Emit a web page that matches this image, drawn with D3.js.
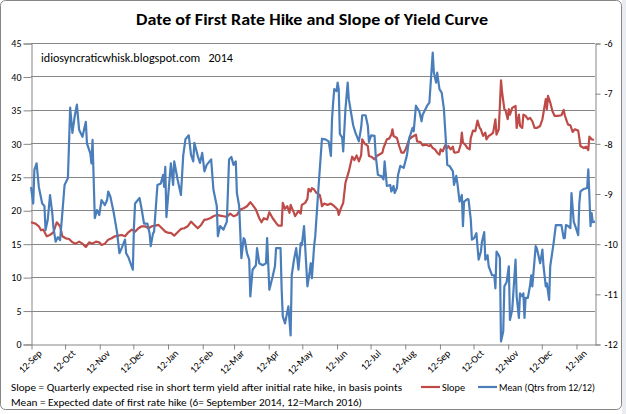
<!DOCTYPE html>
<html>
<head>
<meta charset="utf-8">
<script src="https://cdn.jsdelivr.net/npm/d3@7"></script>
<style>
  body { margin: 0; background: #fff; }
  svg { display: block; }
  text { font-family: Carlito, "Liberation Sans", Arial, sans-serif; fill: #000; }
</style>
</head>
<body>
<div id="chart"></div>
<script>
// first observation date, the series are [day offset, value]
const startDate = new Date(2012, 8, 12);
const lastDay = 504;

const monthTicks = d3.range(0, 17); // 12th of each month from Sep 2012

const leftTicks = [0, 5, 10, 15, 20, 25, 30, 35, 40, 45];
const rightTicks = [-12, -11, -10, -9, -8, -7, -6];

// Slope (basis points), left axis
const slopeSeries = [
  [0,18.2],[4,18],[7,17.6],[9,17],[11,17.1],[14,16.1],[17,16.3],[20,16.7],[23,18.2],[26,17.6],
  [28,16.1],[31,15.8],[34,15.7],[37,15.2],[40,15],[43,15.3],[46,15],[49,14.5],[52,15.2],[55,15],
  [58,15.3],[61,15.2],[63,14.8],[66,15],[69,15.6],[72,15.8],[75,16.1],[78,16.2],[81,16.3],[84,16.1],
  [87,16.7],[90,17.1],[93,16.8],[96,17.3],[99,17.6],[102,17.6],[105,17.3],[108,17.6],[111,17.7],[114,17.8],
  [117,17.3],[120,16.8],[123,16.6],[125,16.6],[128,16.2],[131,16.7],[134,17.2],[137,17.3],[140,17.6],[143,18.3],
  [146,17.8],[149,17.3],[152,17.8],[155,18.6],[157,18.6],[160,18.8],[163,19.1],[166,19.3],[169,19.2],[172,19.1],
  [175,19],[178,19.5],[181,19.1],[184,19.3],[187,20.1],[190,20.3],[193,20.6],[196,21.2],[198,20.8],[201,20.1],
  [204,18.8],[206,18.2],[208,18.8],[211,18.6],[213,19.7],[216,18.8],[219,18.1],[221,17.7],[224,17.7],[225,21.1],
  [227,20.2],[229,20.6],[231,19.6],[232,20.8],[235,19.6],[236,19.1],[239,19.9],[241,19.5],[242,20.8],[245,21.1],
  [247,21.7],[248,23.2],[250,22.8],[251,23.3],[253,23.1],[255,22.6],[258,22.3],[259,21.6],[260,20.6],[262,21],
  [265,20.8],[268,21],[271,20.6],[274,20.1],[275,19.3],[277,20.3],[279,21.1],[281,24.1],[284,25.8],[287,28],
  [289,27.5],[291,28.2],[293,27.3],[295,28.2],[296,30.6],[298,30],[301,29.6],[302,28.1],[304,28],[307,27.6],
  [309,28.1],[311,28.3],[314,28.6],[315,29.3],[318,30.6],[320,30.7],[322,31.3],[323,32.1],[324,31.1],[327,30.8],
  [329,29.6],[331,28.6],[333,28.6],[335,29.2],[338,30.6],[340,30.9],[342,31.1],[344,31.3],[345,30.3],[348,30.2],
  [350,29.7],[353,29.8],[356,29.6],[357,29.8],[359,29.3],[361,29.1],[363,28.6],[365,28.3],[366,29.1],[368,28.8],
  [370,29.7],[372,29.3],[373,29.6],[375,29.1],[377,29.5],[378,28.7],[379,28.6],[382,28.7],[384,29.8],[385,31.6],
  [386,30.1],[388,29.8],[390,29.3],[392,29.1],[393,30.8],[395,31.9],[397,31.8],[399,33.4],[401,32.3],[402,32.1],
  [404,31.1],[406,31.6],[407,30.6],[409,31.1],[411,31.3],[413,31.6],[415,33.6],[416,31.3],[418,32.1],[419,35.6],
  [420,39.4],[421,37.6],[423,35.1],[424,35],[426,33.6],[427,35.1],[428,34.3],[430,35.3],[433,35.6],[434,32.3],
  [436,34.3],[437,32.6],[439,32.3],[440,34.3],[442,34.1],[444,33.6],[446,33.8],[448,33.3],[450,32.3],[452,32.3],
  [455,32.6],[457,33.6],[459,35.6],[460,36.6],[461,35.1],[462,37.1],[464,36.1],[466,34.8],[468,34.1],[471,34.1],
  [474,34.2],[476,35],[477,34.2],[479,33.2],[480,32.8],[482,32.7],[484,31.7],[486,32.1],[489,31.9],[491,29.6],
  [494,29.3],[496,29.5],[498,29],[499,31],[501,30.6],[503,30.5]
];

// Mean (quarters from 12/12, plotted negative), right axis
const meanSeries = [
  [0,-8.87],[2,-9.20],[3,-8.53],[5,-8.40],[7,-8.87],[10,-9.20],[12,-9.25],[13,-9.73],[15,-9.52],[17,-9.03],
  [19,-9.39],[20,-9.67],[22,-9.96],[24,-9.87],[26,-9.93],[28,-9.39],[30,-8.83],[33,-8.69],[35,-7.29],[37,-7.79],
  [39,-7.47],[41,-7.23],[43,-7.73],[46,-7.87],[49,-7.57],[50,-8.00],[53,-8.20],[54,-8.40],[55,-7.93],[57,-9.49],
  [59,-9.33],[61,-9.43],[63,-9.13],[66,-9.23],[68,-9.13],[69,-8.96],[71,-9.07],[74,-9.39],[77,-9.79],[79,-10.19],
  [81,-10.09],[84,-9.92],[85,-10.19],[87,-10.27],[91,-10.52],[92,-9.67],[93,-9.20],[97,-9.09],[99,-9.33],[101,-9.60],
  [104,-9.60],[106,-9.80],[107,-10.05],[109,-9.80],[110,-9.76],[113,-8.83],[116,-8.80],[118,-8.63],[119,-8.87],[120,-8.47],
  [121,-9.47],[125,-8.40],[127,-8.83],[128,-8.36],[131,-8.72],[134,-9.03],[136,-8.25],[138,-7.92],[141,-7.84],[143,-8.23],
  [145,-8.36],[146,-7.99],[149,-8.25],[151,-8.39],[153,-8.19],[155,-8.56],[157,-8.43],[161,-8.32],[163,-8.92],[166,-9.25],
  [167,-9.85],[169,-9.65],[172,-9.72],[175,-9.56],[177,-8.32],[179,-8.27],[181,-8.43],[183,-8.36],[184,-8.99],[186,-9.25],
  [188,-10.29],[190,-9.89],[191,-9.92],[193,-10.19],[195,-10.32],[196,-11.05],[198,-10.52],[201,-10.43],[202,-10.09],[204,-10.39],
  [207,-10.43],[210,-10.39],[211,-9.89],[213,-10.92],[216,-10.65],[218,-10.45],[219,-10.09],[223,-10.09],[224,-10.92],[225,-11.45],
  [227,-11.59],[229,-11.36],[230,-11.25],[232,-11.83],[233,-10.63],[235,-10.32],[237,-10.09],[239,-10.52],[241,-9.99],[242,-10.03],
  [244,-9.65],[245,-10.05],[247,-10.85],[249,-10.56],[250,-10.39],[251,-10.69],[253,-10.05],[254,-9.85],[257,-8.85],[260,-7.91],
  [263,-7.92],[266,-7.96],[268,-8.25],[269,-7.52],[270,-7.19],[271,-6.92],[273,-6.96],[274,-6.79],[275,-6.92],[276,-7.81],
  [278,-7.88],[279,-8.16],[281,-7.32],[283,-6.79],[284,-7.12],[286,-7.39],[288,-7.65],[290,-7.79],[293,-7.96],[295,-7.69],
  [296,-7.44],[299,-7.44],[301,-7.65],[302,-7.97],[304,-7.84],[307,-7.85],[308,-8.23],[310,-8.63],[313,-8.65],[315,-8.72],
  [316,-8.36],[318,-8.85],[321,-8.83],[322,-8.96],[324,-8.85],[325,-8.99],[327,-8.89],[328,-8.63],[330,-8.45],[333,-8.49],
  [335,-8.32],[336,-8.23],[338,-7.89],[339,-7.83],[341,-7.69],[342,-7.76],[344,-7.25],[347,-7.36],[349,-7.56],[350,-7.43],
  [354,-7.25],[356,-7.19],[358,-6.52],[359,-6.19],[360,-6.59],[362,-6.79],[363,-6.59],[365,-6.92],[367,-6.99],[369,-7.32],
  [371,-8.05],[372,-8.43],[374,-8.45],[377,-8.56],[378,-8.83],[380,-8.65],[381,-8.79],[383,-9.16],[385,-9.03],[386,-9.65],
  [387,-9.16],[390,-9.11],[391,-9.12],[393,-9.52],[394,-9.92],[396,-9.89],[398,-9.79],[400,-10.32],[402,-10.16],[403,-9.96],
  [405,-9.77],[406,-10.32],[408,-10.23],[409,-10.45],[412,-10.63],[414,-10.63],[415,-10.89],[416,-10.16],[418,-10.23],[419,-10.29],
  [420,-11.95],[422,-11.75],[423,-10.85],[425,-10.77],[427,-10.45],[428,-11.52],[430,-11.32],[431,-10.99],[433,-10.32],[434,-11.05],
  [436,-11.48],[437,-10.99],[439,-11.05],[440,-10.99],[441,-11.48],[442,-11.08],[444,-11.08],[446,-10.83],[447,-10.63],[448,-10.85],
  [451,-10.05],[452,-10.09],[454,-10.29],[455,-10.39],[457,-10.12],[458,-10.45],[460,-10.85],[461,-10.79],[463,-11.12],[464,-10.45],
  [467,-9.99],[469,-9.63],[470,-9.63],[474,-9.63],[476,-9.89],[477,-9.89],[478,-9.63],[480,-9.65],[482,-9.69],[483,-8.99],
  [485,-9.56],[487,-9.69],[489,-9.83],[490,-9.19],[491,-8.96],[494,-8.91],[497,-8.89],[498,-8.52],[499,-9.05],[500,-9.65],
  [501,-9.39],[502,-9.57],[504,-9.56]
];

const width = 626, height = 414;
const plot = { left: 31, right: 595, top: 43, bottom: 344 };
const red = "#be4b48", blue = "#4a7ebb", axisGrey = "#868686";

const svg = d3.select("#chart").append("svg")
  .attr("width", width).attr("height", height);

// chart frame, with the sheet showing at the right edge
svg.append("rect").attr("x", 622).attr("y", 0).attr("width", 4).attr("height", height).attr("fill", "#e9edf2");
svg.append("rect")
  .attr("x", 0.5).attr("y", 0.5).attr("width", 621).attr("height", 409)
  .attr("rx", 5).attr("fill", "#fff").attr("stroke", axisGrey);

const dayToDate = d => d3.timeDay.offset(startDate, d);

const x = d3.scaleTime()
  .domain([startDate, dayToDate(lastDay)])
  .range([plot.left, plot.right]);
const yLeft = d3.scaleLinear().domain([0, 45]).range([plot.bottom, plot.top]);
const yRight = d3.scaleLinear().domain([-12, -6]).range([plot.bottom, plot.top]);

// gridlines
svg.append("g").selectAll("line")
  .data(leftTicks.slice(1))
  .join("line")
  .attr("x1", plot.left).attr("x2", plot.right)
  .attr("y1", d => Math.round(yLeft(d)) + 0.5).attr("y2", d => Math.round(yLeft(d)) + 0.5)
  .attr("stroke", axisGrey).attr("stroke-width", 1);

// left axis
const gLeft = svg.append("g")
  .attr("transform", `translate(${plot.left + 0.5},0.5)`)
  .call(d3.axisLeft(yLeft).tickValues(leftTicks).tickSize(8).tickPadding(2));

// right axis (plain hyphen minus, as in the original)
const gRight = svg.append("g")
  .attr("transform", `translate(${plot.right + 0.5},0.5)`)
  .call(d3.axisRight(yRight).tickValues(rightTicks).tickFormat(d => String(d)).tickSize(5).tickPadding(4));

// bottom axis
const monthDates = monthTicks.map(i => d3.timeMonth.offset(startDate, i));
const gBottom = svg.append("g")
  .attr("transform", `translate(0.5,${plot.bottom + 0.5})`)
  .call(d3.axisBottom(x).tickValues(monthDates).tickFormat(d3.timeFormat("%d-%b")).tickSize(5).tickSizeOuter(0));

gBottom.selectAll("text")
  .attr("text-anchor", "end")
  .attr("transform", "translate(2,1) rotate(-45)")
  .attr("dx", 0).attr("dy", "0.6em").attr("y", 6).attr("x", 0);

[gLeft, gRight, gBottom].forEach(g => {
  g.selectAll(".domain").attr("stroke", axisGrey);
  g.selectAll(".tick line").attr("stroke", axisGrey);
  g.selectAll("text").style("font-size", "10px").attr("fill", "#000");
});

// series
const slopeLine = d3.line()
  .x(d => x(dayToDate(d[0])))
  .y(d => yLeft(d[1]));
const meanLine = d3.line()
  .x(d => x(dayToDate(d[0])))
  .y(d => yRight(d[1]));

svg.append("path").datum(slopeSeries)
  .attr("d", slopeLine).attr("fill", "none")
  .attr("stroke", red).attr("stroke-width", 2.2).attr("stroke-linejoin", "round");
svg.append("path").datum(meanSeries)
  .attr("d", meanLine).attr("fill", "none")
  .attr("stroke", blue).attr("stroke-width", 2.2).attr("stroke-linejoin", "round");

// title and notes
svg.append("text")
  .attr("x", 312).attr("y", 25).attr("text-anchor", "middle")
  .attr("textLength", 352).attr("lengthAdjust", "spacingAndGlyphs")
  .style("font-size", "15px").style("font-weight", "bold")
  .text("Date of First Rate Hike and Slope of Yield Curve");

svg.append("text")
  .attr("x", 41).attr("y", 62)
  .attr("textLength", 192).attr("lengthAdjust", "spacingAndGlyphs")
  .style("font-size", "11.5px").attr("xml:space", "preserve")
  .text("idiosyncraticwhisk.blogspot.com   2014");

svg.append("text")
  .attr("x", 11).attr("y", 391)
  .attr("textLength", 391).attr("lengthAdjust", "spacingAndGlyphs")
  .style("font-size", "10.5px")
  .text("Slope = Quarterly expected rise in short term yield after initial rate hike, in basis points");

svg.append("text")
  .attr("x", 11).attr("y", 406)
  .attr("textLength", 351).attr("lengthAdjust", "spacingAndGlyphs")
  .style("font-size", "10.5px")
  .text("Mean = Expected date of first rate hike (6= September 2014, 12=March 2016)");

// legend
const legend = [
  { label: "Slope", color: red, x: 421, w: 23 },
  { label: "Mean (Qtrs from 12/12)", color: blue, x: 478, w: 96 }
];
const lg = svg.append("g").selectAll("g").data(legend).join("g")
  .attr("transform", d => `translate(${d.x},387)`);
lg.append("line").attr("x1", 0).attr("x2", 19)
  .attr("stroke", d => d.color).attr("stroke-width", 2.2);
lg.append("text").attr("x", 21).attr("y", 4)
  .style("font-size", "10.5px")
  .attr("textLength", d => d.w).attr("lengthAdjust", "spacingAndGlyphs")
  .text(d => d.label);
</script>
</body>
</html>
